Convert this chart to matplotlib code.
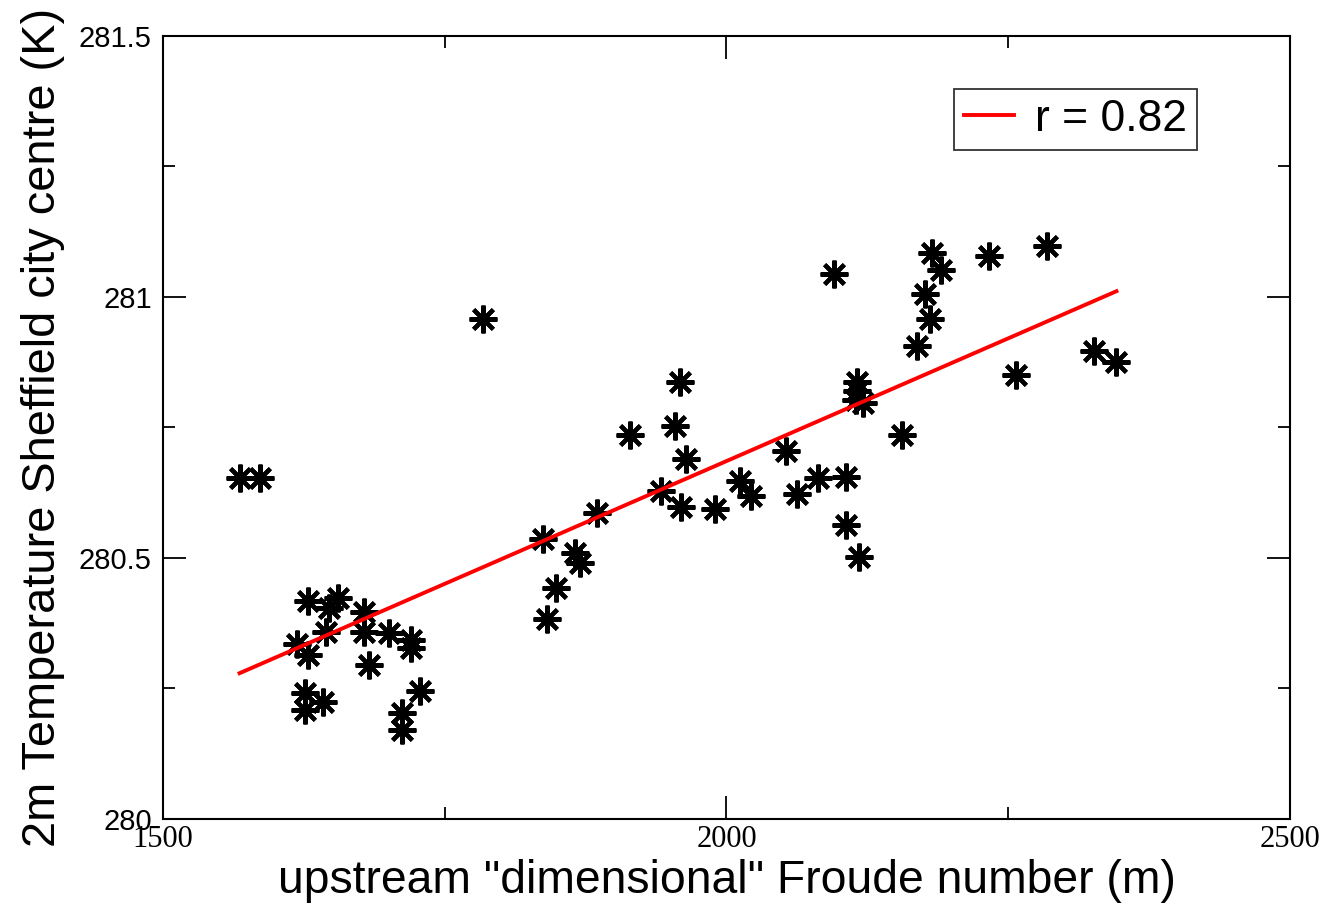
import matplotlib
matplotlib.use('Agg')
import matplotlib.pyplot as plt
from matplotlib.ticker import MultipleLocator
import numpy as np

# upstream "dimensional" Froude number (m)
froude = [
    1568, 1586, 1629, 1647, 1655, 1678, 1645, 1678, 1619, 1629,
    1701, 1720, 1720, 1683, 1626, 1626, 1642, 1728, 1712, 1712,
    1784, 1959, 1914, 1954, 1964, 1942, 1960, 1990, 2012, 2022,
    1885, 1837, 1866, 1870, 1849, 1841,
    2095, 2182, 2190, 2233, 2284, 2176, 2181, 2169, 2326, 2346,
    2257, 2116, 2116, 2115, 2121, 2156, 2053, 2081, 2106, 2063,
    2106, 2118,
]
# 2m temperature Sheffield city centre (K)
temp = [
    280.653, 280.653, 280.418, 280.404, 280.423, 280.397, 280.359, 280.359, 280.336, 280.314,
    280.357, 280.343, 280.327, 280.295, 280.241, 280.209, 280.225, 280.245, 280.203, 280.170,
    280.957, 280.838, 280.736, 280.753, 280.689, 280.628, 280.598, 280.593, 280.648, 280.619,
    280.586, 280.536, 280.510, 280.490, 280.442, 280.383,
    281.044, 281.084, 281.052, 281.079, 281.098, 281.006, 280.957, 280.907, 280.897, 280.876,
    280.851, 280.838, 280.819, 280.803, 280.796, 280.736, 280.704, 280.653, 280.656, 280.622,
    280.563, 280.502,
]
r_label = 'r = 0.82'

x = np.array(froude, dtype=float)
y = np.array(temp, dtype=float)
slope, icpt = np.polyfit(x, y, 1)
xfit = np.array([x.min(), x.max()])

plt.rcParams['font.family'] = ['Liberation Sans', 'DejaVu Sans']

fig = plt.figure(figsize=(13.28, 9.11), dpi=100)
ax = fig.add_axes([0.1227, 0.101, 0.8487, 0.8595])

ax.plot(x, y, linestyle='none', marker=(8, 2, 0), markersize=20,
        markeredgewidth=3.0, color='black', markeredgecolor='black')
ax.plot(xfit, slope * xfit + icpt, color='red', linewidth=2.8, label=r_label)

ax.set_xlim(1500, 2500)
ax.set_ylim(280, 281.5)
ax.xaxis.set_major_locator(MultipleLocator(500))
ax.xaxis.set_minor_locator(MultipleLocator(250))
ax.yaxis.set_minor_locator(MultipleLocator(0.25))
ax.set_yticks([280, 280.5, 281, 281.5])
ax.set_yticklabels(['280', '280.5', '281', '281.5'])

ax.tick_params(which='both', direction='in', top=True, right=True, width=1.3)
ax.tick_params(which='major', length=16.5)
ax.tick_params(which='minor', length=8.5)
ax.tick_params(axis='y', labelsize=21, pad=8)
ax.tick_params(axis='x', labelsize=22, pad=4)
for lab in ax.get_xticklabels():
    lab.set_family('Liberation Serif')
for s in ax.spines.values():
    s.set_linewidth(1.5)

ax.set_xlabel('upstream "dimensional" Froude number (m)', fontsize=33.3, labelpad=4)
ax.set_ylabel('2m Temperature Sheffield city centre (K)', fontsize=33.8, labelpad=10)

leg = ax.legend(loc='upper right', bbox_to_anchor=(0.9175, 0.932), fontsize=32,
                frameon=True, fancybox=False, handlelength=1.13, handletextpad=0.48,
                borderpad=0.22, borderaxespad=0)
leg.get_frame().set_edgecolor('black')
leg.get_frame().set_linewidth(1.3)

fig.savefig('out.png', dpi=100, facecolor='white')
